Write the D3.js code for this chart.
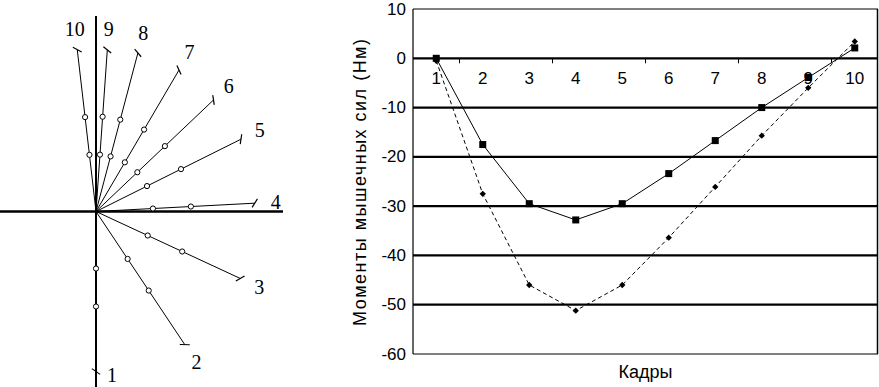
<!DOCTYPE html>
<html>
<head>
<meta charset="utf-8">
<script src="https://cdn.jsdelivr.net/npm/d3@7"></script>
<style>
  body { margin: 0; background: #fff; }
  svg { display: block; }
</style>
</head>
<body>
<div id="container"></div>
<script>
/* DATA */
const frames = [1, 2, 3, 4, 5, 6, 7, 8, 9, 10];
// stick diagram: angle of each limb (deg, from horizontal, ccw) and its length
const limbAngles = [-90, -56.3, -24.9, 3, 26.5, 43.5, 59.6, 75.2, 86, 96.6];
const limbLengths = [160, 160, 159, 159, 162, 162, 164, 164, 162, 163];
const jointDist = [57, 95];
// moments (Nm) per frame
const momentSolid = [0, -17.5, -29.5, -32.8, -29.5, -23.4, -16.7, -10, -3.9, 2.1];
const momentDashed = [-0.5, -27.5, -46, -51.2, -46, -36.4, -26.1, -15.7, -6, 3.4];
const yTicks = [10, 0, -10, -20, -30, -40, -50, -60];

const width = 879, height = 387;
const svg = d3.select("#container").append("svg")
  .attr("width", width).attr("height", height);

/* LEFT: stick diagram */
const sx = d3.scaleLinear().domain([-96, 192]).range([0, 288]);
const sy = d3.scaleLinear().domain([211.5, -175.5]).range([0, 387]);
const left = svg.append("g");

left.append("line")
  .attr("x1", sx(-96)).attr("x2", sx(187))
  .attr("y1", sy(0)).attr("y2", sy(0))
  .attr("stroke", "#000").attr("stroke-width", 2.5);
left.append("line")
  .attr("x1", sx(0)).attr("x2", sx(0))
  .attr("y1", sy(195.5)).attr("y2", sy(-175.5))
  .attr("stroke", "#000").attr("stroke-width", 2);

const rad = a => a * Math.PI / 180;
frames.forEach((f, i) => {
  const a = rad(limbAngles[i]);
  const L = limbLengths[i];
  const ex = L * Math.cos(a), ey = L * Math.sin(a);
  left.append("line")
    .attr("x1", sx(0)).attr("y1", sy(0))
    .attr("x2", sx(ex)).attr("y2", sy(ey))
    .attr("stroke", "#000").attr("stroke-width", 1);
  // end tick
  const ta = a + rad(55);
  left.append("line")
    .attr("x1", sx(ex - 5 * Math.cos(ta))).attr("y1", sy(ey - 5 * Math.sin(ta)))
    .attr("x2", sx(ex + 5 * Math.cos(ta))).attr("y2", sy(ey + 5 * Math.sin(ta)))
    .attr("stroke", "#000").attr("stroke-width", 1.2);
  jointDist.forEach(d => {
    left.append("circle")
      .attr("cx", sx(d * Math.cos(a))).attr("cy", sy(d * Math.sin(a)))
      .attr("r", 2.6)
      .attr("fill", "#fff").attr("stroke", "#000").attr("stroke-width", 1);
  });
  let lx = (L + 21) * Math.cos(a), ly = (L + 21) * Math.sin(a);
  if (i === 0) { lx = ex + 16; ly = ey - 3; }
  left.append("text")
    .attr("x", sx(lx)).attr("y", sy(ly))
    .attr("text-anchor", "middle").attr("dominant-baseline", "central")
    .attr("font-family", "'Liberation Serif', 'Times New Roman', serif")
    .attr("font-size", 20)
    .text(f);
});

/* RIGHT: line chart */
const px0 = 413, px1 = 878, pyTop = 9, pyBot = 354;
const xScale = d3.scaleBand().domain(frames).range([px0, px1]);
const yScale = d3.scaleLinear().domain([-60, 10]).range([pyBot, pyTop]);
const xc = d => xScale(d) + xScale.bandwidth() / 2;
const chart = svg.append("g");
const font = "'Liberation Sans', Arial, sans-serif";

// grid lines
chart.selectAll(".grid").data(yTicks).join("line")
  .attr("x1", px0).attr("x2", px1)
  .attr("y1", d => yScale(d)).attr("y2", d => yScale(d))
  .attr("stroke", "#000")
  .attr("stroke-width", d => (d === 10 || d === -60) ? 1.2 : 2.2);
// borders
chart.append("line").attr("x1", px0).attr("x2", px0)
  .attr("y1", pyTop).attr("y2", pyBot).attr("stroke", "#000").attr("stroke-width", 1.2);
chart.append("line").attr("x1", px1 - 0.5).attr("x2", px1 - 0.5)
  .attr("y1", pyTop).attr("y2", pyBot).attr("stroke", "#000").attr("stroke-width", 1.5);

// y labels
chart.selectAll(".ylab").data(yTicks).join("text")
  .attr("x", px0 - 7).attr("y", d => yScale(d))
  .attr("text-anchor", "end").attr("dominant-baseline", "central")
  .attr("font-family", font).attr("font-size", 17)
  .text(d => d);

// x ticks on zero line (every other category boundary)
const tickBounds = frames.filter((d, i) => i % 2 === 1);
chart.selectAll(".xtick").data(tickBounds).join("line")
  .attr("x1", d => xScale(d)).attr("x2", d => xScale(d))
  .attr("y1", yScale(0)).attr("y2", yScale(0) + 5)
  .attr("stroke", "#000").attr("stroke-width", 1);

// x labels
chart.selectAll(".xlab").data(frames).join("text")
  .attr("x", d => xc(d)).attr("y", yScale(0) + 20)
  .attr("text-anchor", "middle").attr("dominant-baseline", "central")
  .attr("font-family", font).attr("font-size", 17)
  .text(d => d);

// series
const lineGen = d3.line().x((d, i) => xc(frames[i])).y(d => yScale(d));
chart.append("path").datum(momentDashed)
  .attr("d", lineGen).attr("fill", "none")
  .attr("stroke", "#000").attr("stroke-width", 1).attr("stroke-dasharray", "4,3");
chart.append("path").datum(momentSolid)
  .attr("d", lineGen).attr("fill", "none")
  .attr("stroke", "#000").attr("stroke-width", 1);

chart.selectAll(".sq").data(momentSolid).join("rect")
  .attr("x", (d, i) => xc(frames[i]) - 3.5).attr("y", d => yScale(d) - 3.5)
  .attr("width", 7).attr("height", 7).attr("fill", "#000");
chart.selectAll(".dm").data(momentDashed).join("path")
  .attr("d", d3.symbol(d3.symbolSquare, 20))
  .attr("transform", (d, i) => `translate(${xc(frames[i])},${yScale(d)}) rotate(45)`)
  .attr("fill", "#000");

// axis titles
chart.append("text")
  .attr("transform", `translate(360,${(pyTop + pyBot) / 2 + 1}) rotate(-90)`)
  .attr("text-anchor", "middle").attr("dominant-baseline", "central")
  .attr("font-family", font).attr("font-size", 18)
  .attr("textLength", 287).attr("lengthAdjust", "spacing")
  .text("Моменты мышечных сил (Нм)");
chart.append("text")
  .attr("x", (px0 + px1) / 2).attr("y", 372)
  .attr("text-anchor", "middle").attr("dominant-baseline", "central")
  .attr("font-family", font).attr("font-size", 18)
  .text("Кадры");
</script>
</body>
</html>
